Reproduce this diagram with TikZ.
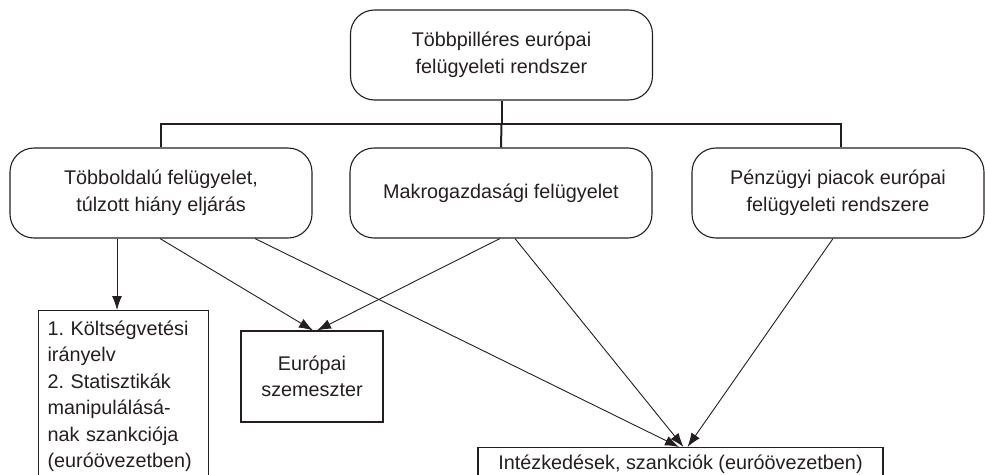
\documentclass[tikz,border=0pt]{standalone}
\usepackage{fontspec}
\setmainfont{Liberation Sans}
\usetikzlibrary{arrows.meta,calc}
\definecolor{ink}{HTML}{231F20}
\frenchspacing
\begin{document}
\frenchspacing
\begin{tikzpicture}[x=1pt,y=-1pt,
  txt/.style={font=\fontsize{19.8}{26.5}\selectfont, text=ink},
  rbox/.style={txt, draw=ink, line width=1.1pt, rounded corners=24pt, minimum width=302pt, minimum height=90pt, align=center, inner sep=0pt},
  sbox/.style={txt, draw=ink, line width=1.1pt, inner sep=0pt},
  arr/.style={draw=ink, line width=0.9pt, -{Latex[length=14pt,width=10pt]}},
  bar/.style={draw=ink, line width=2pt}]
\useasboundingbox (0,0) rectangle (985,474);
\clip (0,0) rectangle (985,474);
\node[rbox] (top) at (501.5,55) {Többpilléres európai\\felügyeleti rendszer};
\node[rbox] (left) at (161,193) {Többoldalú felügyelet,\\túlzott hiány eljárás};
\node[rbox] (mid) at (501,193) {Makrogazdasági felügyelet};
\node[rbox, minimum width=292pt] (right) at (838,193) {Pénzügyi piacok európai\\felügyeleti rendszere};
\node[sbox, anchor=north west, text width=152pt, align=left, inner xsep=9pt, inner ysep=10pt] (budget) at (38,310)
  {1. Költségvetési\\irányelv\\2. Statisztikák\\manipulálásá-\\nak szankciója\\(euróövezetben)};
\node[sbox, minimum width=142pt, minimum height=91pt, align=center] (sem) at (312,376.5) {Európai\\szemeszter};
\node[sbox, minimum width=405pt, minimum height=34pt, anchor=north] (sanc) at (680.5,447) {Intézkedések, szankciók (euróövezetben)};
\coordinate (j) at ($(top.south)+(0,23)$);
\draw[bar] (top.south) -- (j);
\draw[bar] (left.north) |- (j) -| ([xshift=3pt]right.north);
\draw[bar] (j) -- (mid.north);
\draw[arr] ([xshift=-44pt]left.south) -- ([xshift=-44pt]left.south |- budget.north);
\draw[arr] ([xshift=-1pt]left.south) -- ([xshift=1pt]sem.north);
\draw[arr] ([xshift=94pt]left.south) -- ([xshift=-1.5pt]sanc.north);
\draw[arr] ([xshift=-1pt]mid.south) -- ([xshift=5pt]sem.north);
\draw[arr] ([xshift=14pt]mid.south) -- ([xshift=3pt]sanc.north);
\draw[arr] ([xshift=-5pt]right.south) -- ([xshift=7pt]sanc.north);
\end{tikzpicture}
\end{document}
